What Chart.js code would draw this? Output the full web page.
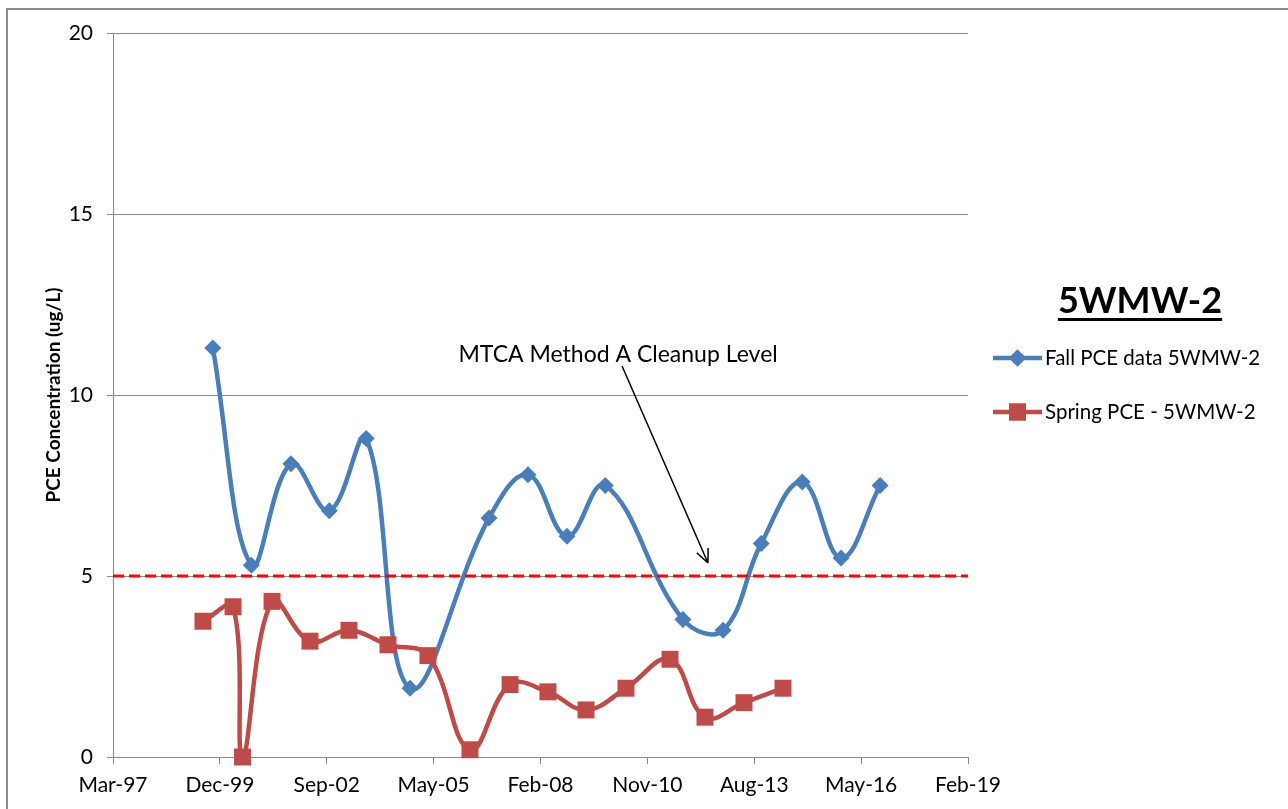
<!DOCTYPE html>
<html>
<head>
<meta charset="utf-8">
<title>5WMW-2 PCE</title>
<script src="https://cdn.jsdelivr.net/npm/chart.js@4.4.0/dist/chart.umd.min.js"></script>
<style>
  html, body { margin: 0; padding: 0; background: #fff; }
  #wrap { width: 1288px; height: 809px; }
</style>
</head>
<body>
<div id="wrap"><canvas id="pceChart" width="1288" height="809"></canvas></div>
<script>
// ── Dados ─────────────────────────────────────────────────

const fallDates = [
  '1999-10-01', '2000-09-25', '2001-10-01', '2002-09-25', '2003-09-05',
  '2004-10-19', '2006-10-28', '2007-10-28', '2008-10-27', '2009-10-20',
  '2011-10-17', '2012-10-26', '2013-10-18', '2014-11-06', '2015-11-04',
  '2016-11-03',
];
const fallValues = [
  11.3, 5.3, 8.1, 6.8, 8.8,
  1.9, 6.6, 7.8, 6.1, 7.5,
  3.8, 3.5, 5.9, 7.6, 5.5,
  7.5,
];

const springDates = [
  '1999-07-01', '2000-04-07', '2000-07-05', '2001-04-07', '2002-03-28',
  '2003-03-28', '2004-03-27', '2005-04-05', '2006-05-03', '2007-05-13',
  '2008-05-02', '2009-04-23', '2010-05-02', '2011-06-18', '2012-05-10',
  '2013-05-10', '2014-05-10',
];
const springValues = [
  3.75, 4.15, 0, 4.3, 3.2,
  3.5, 3.1, 2.8, 0.2, 2.0,
  1.8, 1.3, 1.9, 2.7, 1.1,
  1.5, 1.9,
];

const cleanupDates = ['1997-03-11', '2019-02-04'];
const cleanupValues = [5, 5];

const xTickDates = [
  '1997-03-11', '1999-12-06', '2002-09-01', '2005-05-28', '2008-02-22',
  '2010-11-18', '2013-08-14', '2016-05-10', '2019-02-04',
];
const yTicks = [0, 5, 10, 15, 20];

const chartTitle = '5WMW-2';
const yAxisTitle = 'PCE Concentration (ug/L)';
const fallLabel = 'Fall PCE data 5WMW-2';
const springLabel = 'Spring PCE - 5WMW-2';
const cleanupLabel = 'MTCA Method A Cleanup Level';

// ── Helpers ───────────────────────────────────────────────

const MONTHS = ['Jan', 'Feb', 'Mar', 'Apr', 'May', 'Jun',
                'Jul', 'Aug', 'Sep', 'Oct', 'Nov', 'Dec'];
const DAY = 86400000;
const FONT = 'Lato, "Open Sans", sans-serif';
const BLUE = '#4A7EBB';
const RED = '#BE4B48';
const GRID = '#8a8a8a';

function toDays(s) {
  const [y, m, d] = s.split('-').map(Number);
  return Date.UTC(y, m - 1, d) / DAY;
}

function fmtDate(days) {
  const d = new Date(Math.round(days) * DAY);
  return MONTHS[d.getUTCMonth()] + '-' + String(d.getUTCFullYear()).slice(2);
}

function toPoints(dates, values) {
  return dates.map((d, i) => ({ x: toDays(d), y: values[i] }));
}

// ── Título, legenda e anotação ────────────────────────────

const sideNotes = {
  id: 'sideNotes',
  afterDraw(chart) {
    const { ctx, chartArea: a, scales: { x, y } } = chart;
    const ds = chart.data.datasets;
    ctx.save();

    // moldura do gráfico (Excel)
    ctx.strokeStyle = '#8c8c8c';
    ctx.lineWidth = 2;
    ctx.strokeRect(7, 9, 1300, 820);

    // título sublinhado
    ctx.fillStyle = '#000';
    ctx.font = 'bold 36px ' + FONT;
    ctx.textAlign = 'center';
    ctx.textBaseline = 'alphabetic';
    const tx = a.right + 172;
    const ty = 313;
    ctx.fillText(chartTitle, tx, ty);
    const tw = ctx.measureText(chartTitle).width;
    ctx.fillRect(tx - tw / 2, ty + 5, tw, 3);

    // legenda
    const rows = [
      { label: fallLabel, d: ds[0], style: 'rectRot', r: 8.5 },
      { label: springLabel, d: ds[1], style: 'rect', r: 12 },
    ];
    rows.forEach((row, i) => {
      const ly = 358 + i * 54;
      const x0 = a.right + 25;
      const x1 = a.right + 74;
      ctx.strokeStyle = row.d.borderColor;
      ctx.lineWidth = row.d.borderWidth;
      ctx.beginPath();
      ctx.moveTo(x0, ly);
      ctx.lineTo(x1, ly);
      ctx.stroke();
      ctx.fillStyle = row.d.pointBackgroundColor;
      Chart.helpers.drawPoint(ctx, {
        pointStyle: row.style, radius: row.r, rotation: 0, borderWidth: 0,
      }, (x0 + x1) / 2, ly);
      ctx.fill();
      ctx.fillStyle = '#000';
      ctx.font = '20.5px ' + FONT;
      ctx.textAlign = 'left';
      ctx.textBaseline = 'middle';
      ctx.fillText(row.label, x1 + 3, ly);
    });

    // anotação do nível de limpeza (em coordenadas de dados)
    const labelX = x.getPixelForValue(toDays('2010-02-17'));
    const labelY = y.getPixelForValue(11.13);
    ctx.font = '23px ' + FONT;
    ctx.textAlign = 'center';
    ctx.textBaseline = 'middle';
    ctx.fillText(cleanupLabel, labelX, labelY);

    const sx = x.getPixelForValue(toDays('2010-03-26'));
    const sy = y.getPixelForValue(10.8);
    const ex = x.getPixelForValue(toDays('2012-06-07'));
    const ey = y.getPixelForValue(5.36);
    ctx.strokeStyle = '#000';
    ctx.lineWidth = 1.5;
    ctx.beginPath();
    ctx.moveTo(sx, sy);
    ctx.lineTo(ex, ey);
    const ang = Math.atan2(ey - sy, ex - sx);
    const head = 15;
    [-0.42, 0.42].forEach(o => {
      ctx.moveTo(ex, ey);
      ctx.lineTo(ex - head * Math.cos(ang + o), ey - head * Math.sin(ang + o));
    });
    ctx.stroke();

    ctx.restore();
  },
};

// ── Gráfico ───────────────────────────────────────────────

new Chart(document.getElementById('pceChart'), {
  type: 'line',
  data: {
    datasets: [
      {
        label: fallLabel,
        data: toPoints(fallDates, fallValues),
        borderColor: BLUE,
        backgroundColor: BLUE,
        pointBackgroundColor: BLUE,
        pointBorderColor: BLUE,
        borderWidth: 4.5,
        pointStyle: 'rectRot',
        pointRadius: 8.5,
        pointBorderWidth: 0,
        tension: 0.4,
        clip: false,
        order: 3,
      },
      {
        label: springLabel,
        data: toPoints(springDates, springValues),
        borderColor: RED,
        backgroundColor: RED,
        pointBackgroundColor: RED,
        pointBorderColor: RED,
        borderWidth: 4.5,
        pointStyle: 'rect',
        pointRadius: 12,
        pointBorderWidth: 0,
        tension: 0.4,
        clip: false,
        order: 2,
      },
      {
        label: cleanupLabel,
        data: toPoints(cleanupDates, cleanupValues),
        borderColor: '#FF0000',
        borderWidth: 3,
        borderDash: [11, 5],
        pointRadius: 0,
        tension: 0,
        order: 1,
      },
    ],
  },
  options: {
    responsive: false,
    devicePixelRatio: 1,
    animation: false,
    layout: { padding: { left: 0, right: 320, top: 33, bottom: 0 } },
    plugins: {
      legend: { display: false },
      tooltip: { enabled: false },
    },
    scales: {
      x: {
        type: 'linear',
        min: toDays(xTickDates[0]),
        max: toDays(xTickDates[xTickDates.length - 1]),
        afterBuildTicks: (axis) => {
          axis.ticks = xTickDates.map(d => ({ value: toDays(d) }));
        },
        afterFit: (axis) => { axis.height = 52; },
        grid: { drawOnChartArea: false, color: GRID, tickLength: 7 },
        border: { color: GRID, width: 1 },
        ticks: {
          color: '#000',
          font: { family: FONT, size: 21 },
          padding: 9,
          maxRotation: 0,
          autoSkip: false,
          callback: (v) => fmtDate(v),
        },
      },
      y: {
        min: 0,
        max: 20,
        afterBuildTicks: (axis) => {
          axis.ticks = yTicks.map(v => ({ value: v }));
        },
        afterFit: (axis) => { axis.width = 113; },
        grid: { color: GRID, tickLength: 6 },
        border: { color: GRID, width: 1 },
        ticks: {
          color: '#000',
          font: { family: FONT, size: 21 },
          padding: 14,
        },
        title: {
          display: true,
          text: yAxisTitle,
          color: '#000',
          font: { family: FONT, size: 19, weight: 'bold' },
          padding: { top: 42, bottom: 0 },
        },
      },
    },
  },
  plugins: [sideNotes],
});
</script>
</body>
</html>
